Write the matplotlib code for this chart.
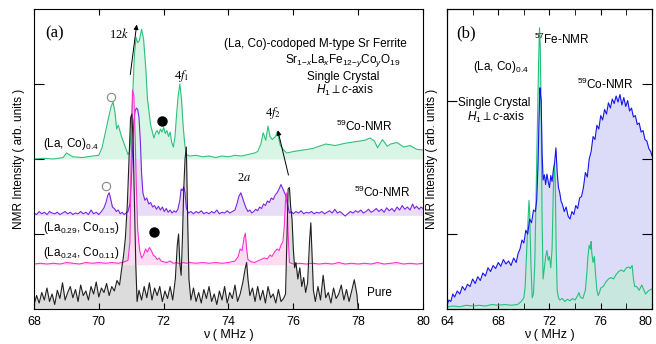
import matplotlib
matplotlib.use("Agg")
import matplotlib.pyplot as plt

plt.rcParams['font.family'] = ['Liberation Sans', 'DejaVu Sans']
plt.rcParams['mathtext.fontset'] = 'custom'
plt.rcParams['mathtext.rm'] = 'Liberation Sans'
plt.rcParams['mathtext.it'] = 'Liberation Sans:italic'
plt.rcParams['mathtext.bf'] = 'Liberation Sans:bold'

# ---- panel (a) : 59Co-NMR spectra, offset traces ----
# (La, Co)0.4  (baseline 2.0)
f_co04 = [68.0, 68.3, 68.6, 68.9, 69.0, 69.2, 69.5, 69.8, 70.0, 70.1, 70.2, 70.3, 70.38, 70.44,
          70.5, 70.55, 70.6, 70.7, 70.8, 70.9, 70.95, 71.0, 71.05, 71.1, 71.15, 71.2, 71.25, 71.32,
          71.38, 71.45, 71.5, 71.6, 71.7, 71.75, 71.8, 71.85, 71.9, 71.95, 72.0, 72.05, 72.1, 72.15,
          72.2, 72.25, 72.3, 72.35, 72.4, 72.45, 72.5, 72.55, 72.6, 72.65, 72.7, 72.8, 73.0, 73.2,
          73.4, 73.6, 73.8, 74.0, 74.2, 74.4, 74.6, 74.8, 74.9, 75.0, 75.07, 75.15, 75.22, 75.28,
          75.35, 75.45, 75.5, 75.55, 75.6, 75.7, 75.8, 76.0, 76.3, 76.6, 77.0, 77.3, 77.6, 77.9,
          78.2, 78.37, 78.5, 78.6, 78.75, 78.9, 79.0, 79.2, 79.4, 79.6, 79.8, 80.0]
v_co04 = [2.00, 2.01, 2.00, 2.02, 2.08, 2.03, 2.02, 2.04, 2.05, 2.15, 2.35, 2.55, 2.70, 2.76,
          2.62, 2.40, 2.45, 2.30, 2.18, 2.06, 2.10, 2.40, 2.90, 3.40, 3.62, 3.55, 3.58, 3.73,
          3.60, 3.20, 2.80, 2.45, 2.28, 2.35, 2.38, 2.33, 2.40, 2.36, 2.42, 2.34, 2.38, 2.30,
          2.36, 2.22, 2.16, 2.30, 2.60, 2.85, 3.00, 2.80, 2.45, 2.20, 2.06, 2.04, 2.05, 2.03,
          2.04, 2.02, 2.04, 2.03, 2.05, 2.04, 2.06, 2.08, 2.10, 2.20, 2.35, 2.25, 2.44, 2.30,
          2.26, 2.30, 2.36, 2.28, 2.18, 2.12, 2.08, 2.10, 2.12, 2.14, 2.20, 2.18, 2.21, 2.23,
          2.25, 2.28, 2.24, 2.15, 2.26, 2.17, 2.20, 2.22, 2.16, 2.18, 2.13, 2.12]

# (La0.29, Co0.15)  (baseline 1.25)
f_co15 = [68.00, 68.08, 68.16, 68.24, 68.32, 68.40, 68.48, 68.56, 68.64, 68.72, 68.80, 68.88,
          68.96, 69.04, 69.12, 69.20, 69.28, 69.36, 69.44, 69.52, 69.60, 69.68, 69.76, 69.84,
          69.92, 70.00, 70.08, 70.16, 70.22, 70.28, 70.32, 70.36, 70.42, 70.48, 70.54, 70.60,
          70.66, 70.72, 70.78, 70.84, 70.90, 70.96, 71.00, 71.04, 71.08, 71.12, 71.16, 71.20,
          71.24, 71.28, 71.32, 71.36, 71.42, 71.48, 71.54, 71.60, 71.66, 71.72, 71.78, 71.84,
          71.90, 71.96, 72.02, 72.08, 72.14, 72.20, 72.26, 72.32, 72.38, 72.44, 72.50, 72.54,
          72.58, 72.62, 72.66, 72.70, 72.76, 72.84, 72.92, 73.00, 73.08, 73.16, 73.24, 73.32,
          73.40, 73.48, 73.56, 73.64, 73.72, 73.80, 73.88, 73.96, 74.04, 74.12, 74.20, 74.26,
          74.32, 74.38, 74.42, 74.48, 74.54, 74.60, 74.66, 74.72, 74.78, 74.84, 74.90, 74.96,
          75.02, 75.08, 75.14, 75.20, 75.26, 75.32, 75.38, 75.44, 75.50, 75.56, 75.62, 75.66,
          75.70, 75.76, 75.82, 75.88, 75.94, 76.00, 76.08, 76.16, 76.24, 76.32, 76.40, 76.48,
          76.56, 76.64, 76.72, 76.80, 76.88, 76.96, 77.04, 77.12, 77.20, 77.28, 77.36, 77.44,
          77.52, 77.60, 77.68, 77.76, 77.84, 77.92, 78.00, 78.08, 78.16, 78.24, 78.32, 78.40,
          78.48, 78.56, 78.64, 78.72, 78.80, 78.88, 78.96, 79.04, 79.12, 79.20, 79.28, 79.36,
          79.44, 79.52, 79.60, 79.68, 79.74, 79.80, 79.88, 79.94, 80.00]
v_co15 = [1.28, 1.26, 1.30, 1.27, 1.29, 1.26, 1.30, 1.28, 1.27, 1.29, 1.26, 1.28,
          1.30, 1.27, 1.29, 1.26, 1.28, 1.27, 1.30, 1.27, 1.29, 1.26, 1.32, 1.27,
          1.29, 1.26, 1.30, 1.35, 1.42, 1.52, 1.55, 1.48, 1.36, 1.34, 1.30, 1.32,
          1.27, 1.29, 1.26, 1.28, 1.30, 1.40, 1.70, 2.10, 2.50, 2.64, 2.68, 2.66,
          2.55, 2.25, 1.80, 1.55, 1.45, 1.48, 1.40, 1.42, 1.36, 1.38, 1.33, 1.37,
          1.32, 1.36, 1.30, 1.34, 1.29, 1.32, 1.28, 1.31, 1.29, 1.33, 1.45, 1.60,
          1.58, 1.63, 1.55, 1.35, 1.28, 1.30, 1.27, 1.30, 1.28, 1.31, 1.27, 1.29,
          1.27, 1.30, 1.28, 1.32, 1.27, 1.29, 1.28, 1.31, 1.28, 1.30, 1.32, 1.40,
          1.50, 1.55, 1.50, 1.42, 1.35, 1.30, 1.32, 1.28, 1.30, 1.33, 1.31, 1.36,
          1.34, 1.40, 1.38, 1.44, 1.42, 1.48, 1.46, 1.52, 1.55, 1.60, 1.66, 1.62,
          1.58, 1.52, 1.40, 1.28, 1.30, 1.27, 1.30, 1.28, 1.31, 1.27, 1.29, 1.28,
          1.30, 1.27, 1.29, 1.28, 1.30, 1.27, 1.29, 1.31, 1.28, 1.33, 1.28, 1.30,
          1.27, 1.24, 1.27, 1.30, 1.28, 1.31, 1.29, 1.32, 1.28, 1.30, 1.33, 1.29,
          1.31, 1.34, 1.30, 1.33, 1.29, 1.35, 1.31, 1.34, 1.30, 1.36, 1.32, 1.38,
          1.33, 1.36, 1.32, 1.40, 1.34, 1.37, 1.33, 1.36, 1.34]

# (La0.24, Co0.11)  (baseline 0.59)
f_co11 = [68.0, 68.2, 68.4, 68.6, 68.8, 69.0, 69.2, 69.4, 69.6, 69.8, 70.0, 70.2, 70.4, 70.6,
          70.8, 70.9, 70.96, 71.0, 71.04, 71.08, 71.12, 71.16, 71.2, 71.26, 71.32, 71.38, 71.44,
          71.5, 71.56, 71.62, 71.68, 71.74, 71.8, 71.86, 71.92, 72.0, 72.1, 72.2, 72.3, 72.4,
          72.5, 72.6, 72.7, 72.8, 73.0, 73.2, 73.4, 73.6, 73.8, 74.0, 74.1, 74.2, 74.3, 74.36,
          74.42, 74.48, 74.52, 74.56, 74.6, 74.7, 74.8, 74.9, 75.0, 75.1, 75.2, 75.28, 75.34,
          75.42, 75.5, 75.56, 75.62, 75.68, 75.72, 75.76, 75.8, 75.84, 75.88, 76.0, 76.2, 76.4,
          76.6, 76.8, 77.0, 77.2, 77.4, 77.6, 77.8, 78.0, 78.2, 78.4, 78.6, 78.8, 79.0, 79.2,
          79.4, 79.6, 79.8, 80.0]
v_co11 = [0.60, 0.61, 0.60, 0.61, 0.60, 0.62, 0.61, 0.60, 0.62, 0.61, 0.62, 0.61, 0.62, 0.61,
          0.63, 0.65, 0.90, 2.00, 2.92, 2.85, 2.30, 1.60, 1.05, 0.78, 0.68, 0.72, 0.80,
          0.76, 0.82, 0.78, 0.72, 0.70, 0.66, 0.68, 0.64, 0.63, 0.62, 0.64, 0.61, 0.62,
          0.60, 0.62, 0.61, 0.62, 0.61, 0.62, 0.61, 0.62, 0.61, 0.62, 0.63, 0.64, 0.70, 0.80,
          0.78, 0.95, 1.01, 0.80, 0.66, 0.63, 0.62, 0.64, 0.66, 0.68, 0.67, 0.72, 0.70,
          0.76, 0.80, 0.78, 0.85, 0.90, 1.10, 1.45, 1.55, 1.00, 0.62, 0.60, 0.61, 0.60,
          0.61, 0.60, 0.61, 0.60, 0.62, 0.60, 0.61, 0.60, 0.61, 0.60, 0.62, 0.60, 0.61, 0.62,
          0.60, 0.61, 0.60, 0.61]

# Pure  (baseline 0)
f_pure = [68.00, 68.08, 68.16, 68.24, 68.32, 68.40, 68.48, 68.56, 68.64, 68.72, 68.80, 68.88,
          68.96, 69.04, 69.12, 69.20, 69.28, 69.36, 69.44, 69.52, 69.60, 69.68, 69.76, 69.84,
          69.92, 70.00, 70.08, 70.16, 70.24, 70.32, 70.40, 70.48, 70.56, 70.64, 70.70, 70.76,
          70.82, 70.88, 70.94, 70.98, 71.02, 71.06, 71.10, 71.14, 71.18, 71.24, 71.32, 71.40,
          71.48, 71.56, 71.64, 71.72, 71.80, 71.88, 71.96, 72.04, 72.12, 72.20, 72.28, 72.36,
          72.42, 72.46, 72.50, 72.54, 72.58, 72.62, 72.66, 72.70, 72.74, 72.78, 72.84, 72.92,
          73.00, 73.08, 73.16, 73.24, 73.32, 73.40, 73.48, 73.56, 73.64, 73.72, 73.80, 73.88,
          73.96, 74.04, 74.12, 74.20, 74.28, 74.36, 74.44, 74.52, 74.56, 74.60, 74.66, 74.74,
          74.82, 74.90, 74.98, 75.06, 75.14, 75.22, 75.30, 75.38, 75.46, 75.54, 75.62, 75.70,
          75.76, 75.80, 75.84, 75.88, 75.92, 75.96, 76.00, 76.04, 76.08, 76.14, 76.20, 76.26,
          76.32, 76.38, 76.44, 76.50, 76.54, 76.58, 76.62, 76.68, 76.76, 76.84, 76.92, 77.00,
          77.08, 77.16, 77.24, 77.32, 77.40, 77.48, 77.56, 77.64, 77.72, 77.80, 77.88, 77.96,
          78.00]
v_pure = [0.05, 0.18, 0.08, 0.22, 0.12, 0.28, 0.10, 0.20, 0.06, 0.25, 0.14, 0.35,
          0.12, 0.22, 0.30, 0.15, 0.26, 0.10, 0.32, 0.18, 0.24, 0.12, 0.30, 0.20,
          0.36, 0.16, 0.28, 0.22, 0.34, 0.18, 0.30, 0.24, 0.38, 0.32, 0.52, 0.70,
          0.95, 1.40, 2.10, 2.55, 2.60, 2.20, 1.40, 0.60, 0.10, 0.25, 0.12, 0.30,
          0.15, 0.35, 0.12, 0.28, 0.18, 0.30, 0.10, 0.24, 0.14, 0.30, 0.12, 0.40,
          0.85, 1.00, 0.60, 0.45, 0.95, 1.60, 2.00, 2.16, 1.20, 0.40, 0.12, 0.28,
          0.10, 0.22, 0.08, 0.26, 0.14, 0.30, 0.10, 0.20, 0.06, 0.24, 0.12, 0.30,
          0.08, 0.22, 0.14, 0.32, 0.10, 0.20, 0.35, 0.55, 0.62, 0.40, 0.18, 0.28,
          0.10, 0.30, 0.12, 0.25, 0.08, 0.30, 0.15, 0.20, 0.08, 0.26, 0.10, 0.14,
          0.20, 0.90, 1.60, 1.62, 1.35, 1.20, 0.80, 0.55, 0.62, 0.40, 0.55, 0.30,
          0.42, 0.22, 0.35, 0.90, 1.15, 0.70, 0.25, 0.10, 0.30, 0.12, 0.45, 0.15,
          0.22, 0.08, 0.28, 0.14, 0.20, 0.32, 0.12, 0.26, 0.10, 0.24, 0.39, 0.20,
          0.00]

# ---- panel (b) : (La, Co)0.4, 57Fe and 59Co NMR ----
f_b_co = [64.0, 64.15, 64.3, 64.45, 64.6, 64.8, 65.0, 65.2, 65.4, 65.6, 65.8, 66.0, 66.2, 66.4,
          66.6, 66.8, 67.0, 67.2, 67.4, 67.6, 67.8, 68.0, 68.2, 68.4, 68.6, 68.8, 69.0, 69.2,
          69.4, 69.55, 69.7, 69.85, 70.0, 70.15, 70.3, 70.45, 70.6, 70.75, 70.9, 71.0, 71.1,
          71.18, 71.25, 71.3, 71.35, 71.42, 71.5, 71.6, 71.7, 71.8, 71.9, 72.0, 72.1, 72.2,
          72.3, 72.4, 72.5, 72.6, 72.7, 72.8, 72.9, 73.0, 73.15, 73.3, 73.45, 73.6, 73.75, 73.9,
          74.05, 74.2, 74.35, 74.5, 74.65, 74.8, 74.95, 75.1, 75.25, 75.4, 75.55, 75.7, 75.85,
          76.0, 76.15, 76.3, 76.45, 76.6, 76.75, 76.9, 77.05, 77.2, 77.35, 77.5, 77.65, 77.8,
          77.95, 78.1, 78.25, 78.4, 78.55, 78.7, 78.85, 79.0, 79.15, 79.3, 79.45, 79.6, 79.75,
          79.9, 80.0]
v_b_co = [0.05, 0.12, 0.10, 0.20, 0.16, 0.24, 0.20, 0.30, 0.25, 0.33, 0.30, 0.40, 0.34, 0.43,
          0.38, 0.48, 0.44, 0.55, 0.50, 0.58, 0.54, 0.62, 0.57, 0.66, 0.60, 0.64, 0.58, 0.68,
          0.62, 0.74, 0.80, 0.92, 0.88, 1.05, 1.00, 1.20, 1.15, 1.32, 1.30, 1.45, 1.90,
          2.50, 2.95, 2.85, 2.79, 2.10, 1.72, 1.79, 1.66, 1.80, 1.70, 1.62, 1.78, 1.70,
          1.85, 1.95, 2.15, 1.82, 1.62, 1.55, 1.44, 1.40, 1.30, 1.36, 1.24, 1.20, 1.30, 1.26,
          1.38, 1.34, 1.48, 1.50, 1.62, 1.82, 1.76, 2.00, 2.10, 2.30, 2.26, 2.45, 2.40,
          2.58, 2.52, 2.66, 2.60, 2.75, 2.68, 2.80, 2.74, 2.84, 2.76, 2.86, 2.72, 2.82,
          2.70, 2.78, 2.64, 2.68, 2.56, 2.58, 2.46, 2.48, 2.36, 2.38, 2.26, 2.24, 2.14,
          2.10, 2.04]

f_b_fe = [64.0, 64.5, 65.0, 65.5, 66.0, 66.5, 67.0, 67.5, 68.0, 68.5, 69.0, 69.5, 69.8, 70.0,
          70.1, 70.2, 70.3, 70.4, 70.45, 70.55, 70.65, 70.75, 70.85, 70.95, 71.05, 71.15, 71.22,
          71.28, 71.35, 71.42, 71.5, 71.6, 71.7, 71.8, 71.9, 72.0, 72.1, 72.2, 72.3, 72.38,
          72.45, 72.52, 72.6, 72.7, 72.8, 73.0, 73.2, 73.4, 73.6, 73.8, 74.0, 74.2, 74.3, 74.4,
          74.6, 74.8, 74.9, 75.0, 75.1, 75.2, 75.25, 75.3, 75.4, 75.5, 75.6, 75.7, 75.8, 75.9,
          76.0, 76.2, 76.4, 76.6, 76.8, 77.0, 77.2, 77.4, 77.6, 77.8, 78.0, 78.2, 78.3, 78.45,
          78.55, 78.65, 78.8, 79.0, 79.2, 79.3, 79.5, 79.7, 79.9, 80.0]
v_b_fe = [0.03, 0.04, 0.03, 0.05, 0.04, 0.05, 0.04, 0.06, 0.05, 0.06, 0.05, 0.06, 0.10, 0.15,
          0.30, 0.70, 1.10, 1.45, 1.30, 0.60, 0.15, 0.20, 0.60, 1.50, 2.40, 3.30, 3.75,
          3.48, 2.60, 1.20, 0.40, 0.55, 0.70, 0.78, 0.65, 0.70, 0.55, 0.80, 1.60, 1.93,
          1.70, 0.80, 0.25, 0.15, 0.12, 0.14, 0.10, 0.13, 0.11, 0.14, 0.12, 0.18, 0.22, 0.16,
          0.14, 0.25, 0.45, 0.70, 0.85, 0.80, 0.90, 0.75, 0.62, 0.70, 0.45, 0.25, 0.18, 0.22,
          0.28, 0.30, 0.36, 0.40, 0.42, 0.40, 0.46, 0.50, 0.52, 0.50, 0.55, 0.56, 0.54, 0.58,
          0.40, 0.30, 0.30, 0.25, 0.32, 0.28, 0.20, 0.24, 0.26, 0.27]

fig = plt.figure(figsize=(6.56, 3.44), dpi=100)
ax = fig.add_axes([0.0518, 0.1017, 0.593, 0.872])
bx = fig.add_axes([0.6814, 0.1017, 0.3125, 0.872])

traces = [(f_pure, v_pure, 0.0, '#202020', '#dcdcdc'),
          (f_co11, v_co11, 0.59, '#ff2fd0', '#fcdcf1'),
          (f_co15, v_co15, 1.25, '#7b22e6', '#e8dcf8'),
          (f_co04, v_co04, 2.0, '#2fc07c', '#d9f5e6')]
for f, v, base, lc, fc in traces:
    ax.fill_between(f, base, v, color=fc, lw=0, zorder=1)
for f, v, base, lc, fc in traces[::-1]:
    ax.plot(f, v, color=lc, lw=0.8, zorder=2)

ax.set_xlim(68, 80)
ax.set_ylim(0, 4)
ax.set_xticks([68, 70, 72, 74, 76, 78, 80])
ax.set_yticks([1, 2, 3])
ax.set_yticklabels([])
ax.tick_params(axis='x', direction='in', top=True, length=4, labelsize=9, pad=5)
ax.tick_params(axis='y', direction='in', length=7)
ax.set_xlabel('ν ( MHz )', fontsize=9, labelpad=1)
ax.set_ylabel('NMR Intensity ( arb. units )', fontsize=8.5)
ax.yaxis.set_label_coords(-0.024, 0.5)

serif = dict(family='Liberation Serif', math_fontfamily='stix')
ax.text(68.34, 3.68, '(a)', fontsize=12, va='center', **serif)
ax.text(70.31, 3.67, r'12$k$', fontsize=9, va='center', **serif)
ax.text(72.32, 3.11, r'4$f_1$', fontsize=9, va='center', **serif)
ax.text(75.13, 2.61, r'4$f_2$', fontsize=9, va='center', **serif)
ax.text(74.26, 1.75, r'2$a$', fontsize=9, va='center', **serif)
ax.annotate('', xy=(71.18, 3.83), xytext=(70.96, 3.09),
            arrowprops=dict(arrowstyle='-|>', color='black', lw=0.7, mutation_scale=7))
ax.annotate('', xy=(75.5, 2.42), xytext=(75.87, 1.75),
            arrowprops=dict(arrowstyle='-|>', color='black', lw=0.7, mutation_scale=7))
ax.plot([70.37], [2.83], 'o', mfc='white', mec='#888888', ms=6, mew=0.8, zorder=3)
ax.plot([70.22], [1.64], 'o', mfc='white', mec='#888888', ms=6, mew=0.8, zorder=3)
ax.plot([71.95], [2.51], 'o', color='black', ms=6.5, zorder=3)
ax.plot([71.71], [1.03], 'o', color='black', ms=6.5, zorder=3)

fs = 8.5
ax.text(76.67, 3.53, '(La, Co)-codoped M-type Sr Ferrite', fontsize=fs, ha='center', va='center')
ax.text(77.53, 3.31, r'Sr$_{1\mathrm{-}x}$La$_x$Fe$_{12\mathrm{-}y}$Co$_y$O$_{19}$',
        fontsize=fs, ha='center', va='center')
ax.text(77.53, 3.09, 'Single Crystal', fontsize=fs, ha='center', va='center')
ax.text(77.6, 2.91, r'$H_1 \perp c$-axis', fontsize=fs, ha='center', va='center')
ax.text(78.18, 2.43, r'$^{59}$Co-NMR', fontsize=fs, ha='center', va='center')
ax.text(78.75, 1.55, r'$^{59}$Co-NMR', fontsize=fs, ha='center', va='center')
ax.text(68.28, 2.2, r'(La, Co)$_{0.4}$', fontsize=fs, va='center')
ax.text(68.28, 1.08, r'(La$_{0.29}$, Co$_{0.15}$)', fontsize=fs, va='center')
ax.text(68.28, 0.75, r'(La$_{0.24}$, Co$_{0.11}$)', fontsize=fs, va='center')
ax.text(78.27, 0.21, 'Pure', fontsize=fs, va='center')

# panel (b)
bx.fill_between(f_b_co, 0, v_b_co, color='#dcdcf9', lw=0, zorder=1)
bx.fill_between(f_b_fe, 0, v_b_fe, color='#c8e8df', lw=0, zorder=1)
bx.plot(f_b_fe, v_b_fe, color='#22c27a', lw=0.8, zorder=2)
bx.plot(f_b_co, v_b_co, color='#1414f0', lw=0.8, zorder=3)
bx.set_xlim(64, 80)
bx.set_ylim(0, 4)
bx.set_xticks([64, 68, 72, 76, 80])
bx.set_xticks([66, 70, 74, 78], minor=True)
bx.set_yticks([1.0, 2.77])
bx.set_yticklabels([])
bx.tick_params(axis='x', which='both', direction='in', top=True, length=4, labelsize=9, pad=5)
bx.tick_params(axis='y', direction='in', length=7)
# last tick label sits on the figure edge: keep it inside
bx.get_xticklabels()[-1].set_horizontalalignment('right')
by = bx.twinx()
by.set_ylim(0, 4)
by.set_yticks([1, 2, 3])
by.set_yticklabels([])
by.tick_params(axis='y', direction='in', length=7)
bx.set_xlabel('ν ( MHz )', fontsize=9, labelpad=1)
bx.set_ylabel('NMR Intensity ( arb. units )', fontsize=8.5)
bx.yaxis.set_label_coords(-0.044, 0.5)

bx.text(64.7, 3.68, '(b)', fontsize=12, va='center', **serif)
bx.text(66.03, 3.23, r'(La, Co)$_{0.4}$', fontsize=fs, va='center')
bx.text(67.7, 2.75, 'Single Crystal', fontsize=fs, ha='center', va='center')
bx.text(67.83, 2.56, r'$H_1 \perp c$-axis', fontsize=fs, ha='center', va='center')
bx.text(72.94, 3.6, r'$^{57}$Fe-NMR', fontsize=fs, ha='center', va='center')
bx.text(76.33, 2.99, r'$^{59}$Co-NMR', fontsize=fs, ha='center', va='center')

fig.savefig('out.png', dpi=100)
